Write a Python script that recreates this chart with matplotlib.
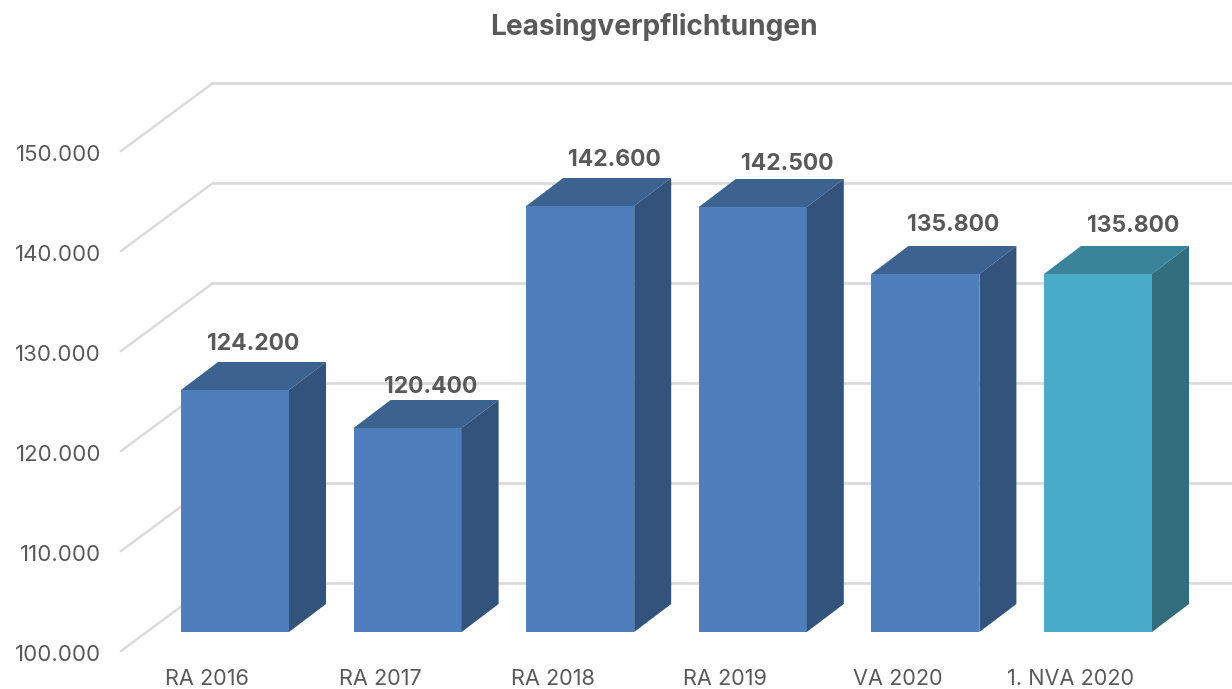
import matplotlib
matplotlib.use("Agg")
import matplotlib.pyplot as plt
from matplotlib.patches import Polygon

# Chart data
categories = ["RA 2016", "RA 2017", "RA 2018", "RA 2019", "VA 2020", "1. NVA 2020"]
values = [124200, 120400, 142600, 142500, 135800, 135800]
y_ticks = [100000, 110000, 120000, 130000, 140000, 150000]

# hand nudges of the data labels, in px
label_dx = [0, 5, 16, 16, 9, 17]
label_dy = [-1, -6, -1, -4, 2, 1]


def de_format(v):
    return f"{v:,}".replace(",", ".")


plt.rcParams["font.family"] = ["Inter", "DejaVu Sans"]

fig = plt.figure(figsize=(12.32, 6.89), dpi=100)
ax = fig.add_axes([0, 0, 1, 1])
ax.axis("off")

# one category step = 172.6 px, 1000 units = 10 px
step_px = 172.6
ax.set_xlim(-235 / step_px, (1232 - 235) / step_px)
ax.set_ylim(100000 - (689 - 632) * 100, 100000 + 632 * 100)

# pseudo 3D offsets
bar_w = 108 / step_px
bar_dx = 37 / step_px
bar_dy = 2800
wall_x0 = (121 - 235) / step_px
wall_x1 = (213 - 235) / step_px
wall_low = -1900
wall_high = 4900

grid_col = "#d9d9d9"
for t in y_ticks:
    ax.plot([wall_x0, wall_x1], [t + wall_low, t + wall_high], color=grid_col, lw=1.7, zorder=1)
    ax.plot([wall_x1, ax.get_xlim()[1]], [t + wall_high, t + wall_high], color=grid_col, lw=1.9, zorder=1)
    ax.text(101 / step_px - 235 / step_px, t + wall_low - 400, de_format(t), ha="right", va="center",
            fontsize=16, color="#595959")

for i, (cat, v) in enumerate(zip(categories, values)):
    last = i == len(categories) - 1
    front = "#48acc8" if last else "#4e7fbc"
    top = "#3a8499" if last else "#3c6290"
    side = "#306e7d" if last else "#32537c"
    x0 = i - bar_w / 2
    x1 = i + bar_w / 2
    base = y_ticks[0]
    ax.add_patch(Polygon([(x0, base), (x1, base), (x1, v), (x0, v)], color=front, lw=0, zorder=3))
    ax.add_patch(Polygon([(x0, v), (x1, v), (x1 + bar_dx, v + bar_dy), (x0 + bar_dx, v + bar_dy)],
                         color=top, lw=0, zorder=3))
    ax.add_patch(Polygon([(x1, base), (x1 + bar_dx, base + bar_dy), (x1 + bar_dx, v + bar_dy), (x1, v)],
                         color=side, lw=0, zorder=3))
    ax.text(i + bar_dx / 2 + label_dx[i] / step_px, v + bar_dy + 1900 + label_dy[i] * 100, de_format(v),
            ha="center", va="center", fontsize=16.5, fontweight="bold", color="#595959", zorder=4)
    ax.text(i - 0.16, y_ticks[0] - 4700, cat, ha="center", va="center",
            fontsize=15.6, color="#595959")

fig.text(653.5 / 1232, 1 - 27 / 689, "Leasingverpflichtungen", ha="center", va="center",
         fontsize=20.2, fontweight="bold", color="#595959")

fig.savefig("out.png", dpi=100)
